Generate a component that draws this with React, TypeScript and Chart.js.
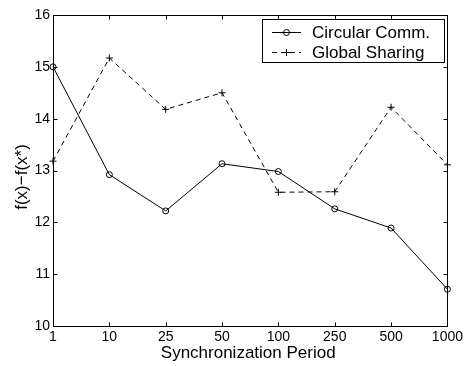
import React, { useEffect, useRef } from "react";
import { Chart, registerables } from "chart.js";

Chart.register(...registerables);

const categories = ["1", "10", "25", "50", "100", "250", "500", "1000"];
const circularComm = [15.0, 12.92, 12.22, 13.13, 12.98, 12.26, 11.89, 10.71];
const globalSharing = [13.18, 15.17, 14.18, 14.5, 12.58, 12.59, 14.22, 13.11];
const seriesNames = ["Circular Comm.", "Global Sharing"];
const yTicks = [10, 11, 12, 13, 14, 15, 16];
const xTitle = "Synchronization Period";
const yTitle = "f(x)\u2212f(x*)";

const FONT = "'Liberation Sans', Arial, Helvetica, sans-serif";

const framePlugin = {
  id: "frame",
  afterDraw(chart: any) {
    const ctx = chart.ctx;
    const { left, right, top, bottom } = chart.chartArea;
    const xs = chart.scales.x;
    const ys = chart.scales.y;
    ctx.save();
    ctx.strokeStyle = "#000";
    ctx.lineWidth = 1;
    ctx.setLineDash([]);
    const L = Math.round(left) + 0.5;
    const R = Math.round(right) + 0.5;
    const T = Math.round(top) + 0.5;
    const B = Math.round(bottom) + 0.5;
    ctx.strokeRect(L, T, R - L, B - T);
    const tl = 4;
    ctx.beginPath();
    categories.forEach((_, i) => {
      const x = Math.round(xs.getPixelForValue(i)) + 0.5;
      ctx.moveTo(x, B);
      ctx.lineTo(x, B - tl);
      ctx.moveTo(x, T);
      ctx.lineTo(x, T + tl);
    });
    yTicks.forEach((v) => {
      const y = Math.round(ys.getPixelForValue(v)) + 0.5;
      ctx.moveTo(L, y);
      ctx.lineTo(L + tl, y);
      ctx.moveTo(R, y);
      ctx.lineTo(R - tl, y);
    });
    ctx.stroke();

    // legend
    const bx = 262.5, by = 19.5, bw = 182, bh = 43;
    ctx.fillStyle = "#fff";
    ctx.fillRect(bx, by, bw, bh);
    ctx.strokeRect(bx, by, bw, bh);
    const rows = [32, 52];
    ctx.font = "17px " + FONT;
    ctx.fillStyle = "#000";
    ctx.textBaseline = "middle";
    ctx.textAlign = "left";
    rows.forEach((ry, i) => {
      const y = ry + 0.5;
      ctx.beginPath();
      ctx.setLineDash(i === 1 ? [5, 4] : []);
      ctx.moveTo(272, y);
      ctx.lineTo(301, y);
      ctx.stroke();
      ctx.setLineDash([]);
      ctx.beginPath();
      if (i === 0) {
        ctx.arc(286.5, y, 3, 0, Math.PI * 2);
      } else {
        ctx.moveTo(283, y);
        ctx.lineTo(290, y);
        ctx.moveTo(286.5, y - 3.5);
        ctx.lineTo(286.5, y + 3.5);
      }
      ctx.stroke();
      ctx.fillText(seriesNames[i], 312, ry + 1);
    });

    // titles
    ctx.textAlign = "center";
    ctx.textBaseline = "alphabetic";
    ctx.fillText(xTitle, (left + right) / 2 - 2, 358);
    ctx.save();
    ctx.translate(27, 177);
    ctx.rotate(-Math.PI / 2);
    ctx.fillText(yTitle, 0, 0);
    ctx.restore();
    ctx.restore();
  },
};

export default function App() {
  const ref = useRef<HTMLCanvasElement>(null);
  useEffect(() => {
    document.body.style.margin = "0";
    const chart = new Chart(ref.current as HTMLCanvasElement, {
      type: "line",
      data: {
        labels: categories,
        datasets: [
          {
            label: seriesNames[0],
            data: circularComm,
            borderColor: "#000",
            borderWidth: 1,
            pointStyle: "circle",
            pointRadius: 3,
            pointBorderWidth: 1,
            pointBorderColor: "#000",
            pointBackgroundColor: "rgba(0,0,0,0)",
            tension: 0,
          },
          {
            label: seriesNames[1],
            data: globalSharing,
            borderColor: "#000",
            borderWidth: 1,
            borderDash: [5, 4],
            pointStyle: "cross",
            pointRadius: 3.5,
            pointBorderWidth: 1,
            pointBorderColor: "#000",
            tension: 0,
          },
        ],
      },
      options: {
        animation: false,
        responsive: false,
        devicePixelRatio: 1,
        layout: { padding: { top: 15, right: 17, left: 0, bottom: 0 } },
        plugins: { legend: { display: false }, tooltip: { enabled: false } },
        scales: {
          x: {
            type: "category",
            offset: false,
            grid: { display: false, drawTicks: false },
            border: { display: false },
            ticks: {
              color: "#000",
              font: { family: FONT, size: 14 },
              padding: 3,
              maxRotation: 0,
              autoSkip: false,
            },
            afterFit(scale: any) {
              scale.height = 40;
            },
          },
          y: {
            min: 10,
            max: 16,
            grid: { display: false, drawTicks: false },
            border: { display: false },
            ticks: {
              stepSize: 1,
              color: "#000",
              font: { family: FONT, size: 14 },
              padding: 3,
            },
            afterFit(scale: any) {
              scale.width = 53;
            },
          },
        },
      },
      plugins: [framePlugin],
    });
    return () => chart.destroy();
  }, []);
  return (
    <div style={{ position: "absolute", left: 0, top: 0, width: 466, height: 366, background: "#fff" }}>
      <canvas ref={ref} width={466} height={366} />
    </div>
  );
}
